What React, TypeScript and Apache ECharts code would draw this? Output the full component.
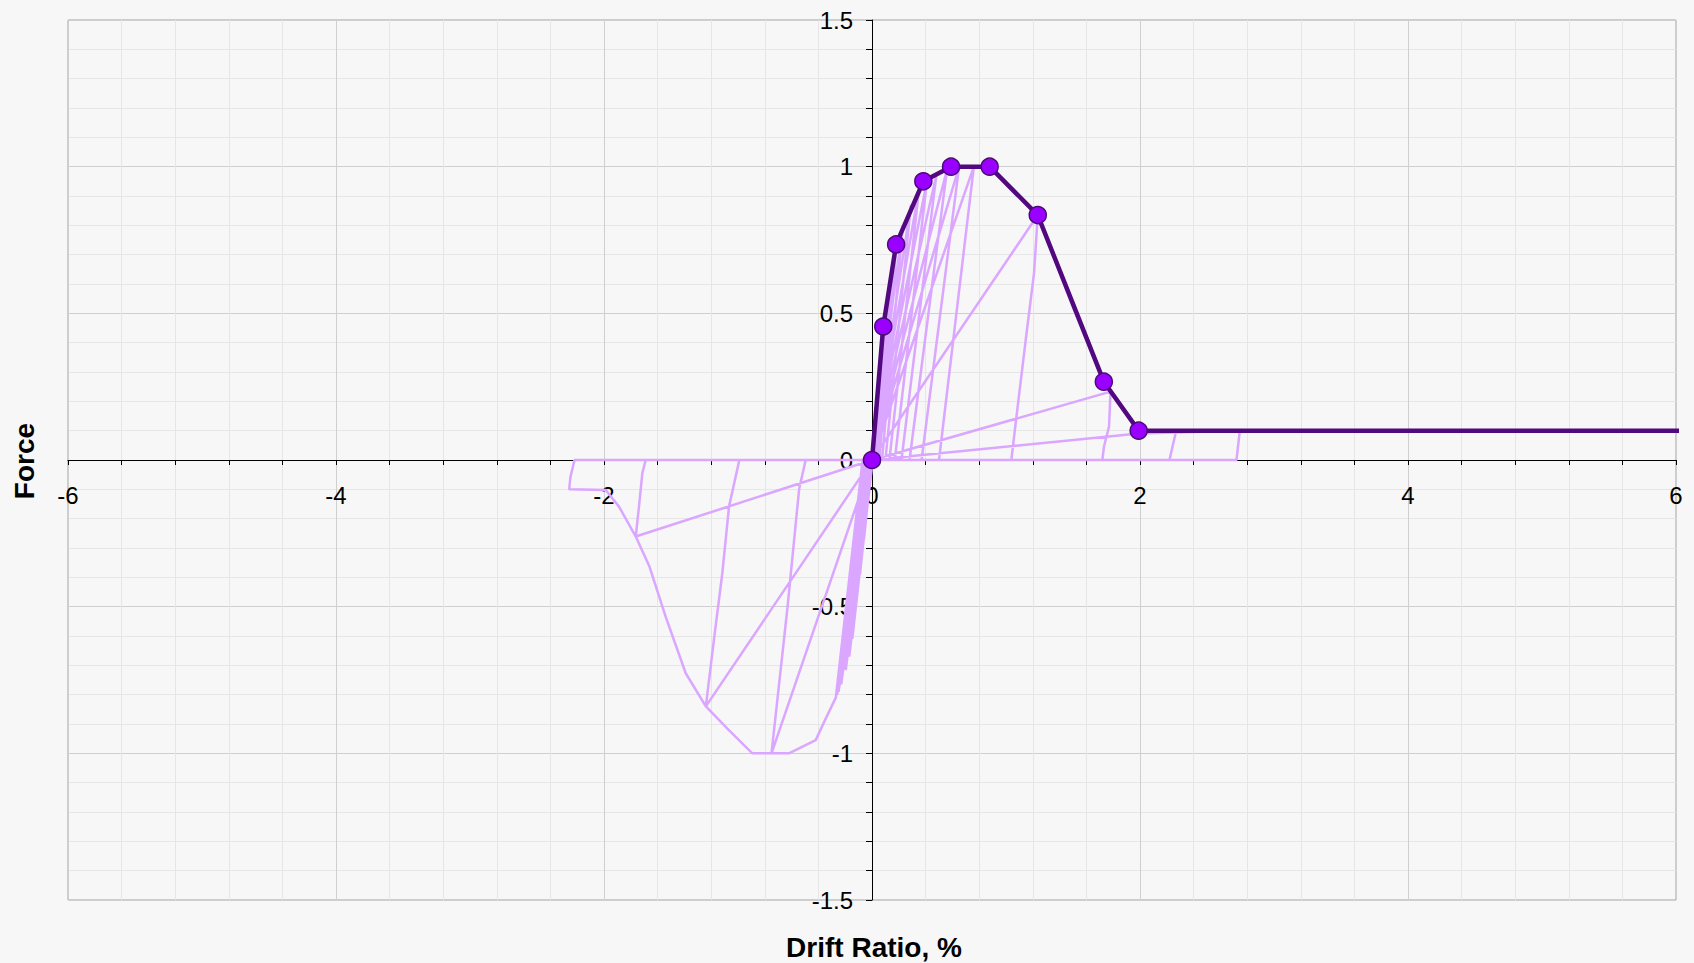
import React, { useEffect, useRef } from "react";
import * as echarts from "echarts";

const FONT = "'Liberation Sans', Arial, sans-serif";

// Backbone (envelope) points: [drift %, force]
const backbonePoints: [number, number][] = [
  [0, 0],
  [0.084, 0.455],
  [0.18, 0.735],
  [0.383, 0.95],
  [0.59, 1.0],
  [0.878, 1.0],
  [1.237, 0.835],
  [1.73, 0.267],
  [1.99, 0.1],
];
// backbone residual branch continues past the right edge
const backboneTail: [number, number][] = [[6.1, 0.1]];

// Hysteresis response (drift %, force)
const hysteresis: [number, number][] = [
  [0, 0],
  [0.04, 0.22], [0.005, 0], [0, 0], [-0.03, -0.14], [-0.005, 0], [0, 0],
  [0.07, 0.37], [0.015, 0], [0, 0], [-0.06, -0.27], [-0.01, 0], [0, 0],
  [0.1, 0.5], [0.025, 0], [0, 0], [-0.09, -0.39], [-0.015, 0], [0, 0],
  [0.14, 0.62], [0.04, 0], [0, 0], [-0.12, -0.5], [-0.02, 0], [0, 0],
  [0.18, 0.72], [0.055, 0], [0, 0], [-0.147, -0.61], [-0.025, 0], [0, 0],
  [0.23, 0.8], [0.075, 0], [0, 0], [-0.17, -0.67], [-0.03, 0], [0, 0],
  [0.29, 0.87], [0.1, 0], [0, 0], [-0.196, -0.716], [-0.035, 0], [0, 0],
  [0.35, 0.92], [0.13, 0], [0, 0], [-0.23, -0.765], [-0.04, 0], [0, 0],
  [0.41, 0.95], [0.17, 0], [0, 0], [-0.27, -0.81], [-0.05, 0], [0, 0],
  [0.48, 0.97], [0.22, 0], [0, 0], [-0.25, -0.79], [-0.06, 0], [0, 0],
  [0.56, 0.99], [0.28, 0], [0, 0], [-0.27, -0.81], [-0.07, 0], [0, 0],
  [0.65, 1.0], [0.37, 0], [0, 0], [-0.26, -0.8], [-0.055, 0], [0, 0],
  [0.76, 1.0], [0.5, 0], [0, 0], [-0.27, -0.81], [-0.065, 0], [0, 0],
  [0.76, 1.0], [0.878, 1.0], [1.237, 0.835], [1.209, 0.636], [1.147, 0.409], [1.072, 0.125], [1.04, 0], [0, 0],
  [-0.27, -0.81], [-0.35, -0.886], [-0.42, -0.955], [-0.62, -1.0], [-0.75, -1.0], [-0.63, -0.5], [-0.544, -0.1], [-0.495, 0], [0, 0],
  [1.237, 0.835], [1.5, 0.52], [1.73, 0.267], [1.78, 0.233], [1.769, 0.114], [1.731, 0.045], [1.719, 0], [0, 0],
  [-0.75, -1.0], [-0.893, -1.0], [-1.07, -0.92], [-1.24, -0.84], [-1.18, -0.614], [-1.117, -0.386], [-1.067, -0.159], [-0.99, 0], [0, 0],
  [1.78, 0.233], [1.99, 0.1], [2.27, 0.1], [2.24, 0.04], [2.22, 0], [0, 0],
  [-1.24, -0.84], [-1.39, -0.727], [-1.54, -0.534], [-1.66, -0.364], [-1.763, -0.261], [-1.739, -0.159], [-1.714, -0.045], [-1.689, 0], [0, 0],
  [1.99, 0.09], [2.745, 0.1], [2.73, 0.04], [2.72, 0], [0, 0],
  [-1.763, -0.261], [-1.888, -0.159], [-1.987, -0.102], [-2.26, -0.1], [-2.25, -0.057], [-2.22, 0], [0, 0],
];

const xTitle = "Drift Ratio, %";
const yTitle = "Force";

export default function App() {
  const ref = useRef<HTMLDivElement>(null);

  useEffect(() => {
    document.body.style.margin = "0";
    document.body.style.background = "#f7f7f7";
    const chart = echarts.init(ref.current as HTMLDivElement, null, { renderer: "svg" });
    const axisLabel = { fontSize: 24, color: "#000", fontFamily: FONT };
    const gridLeft = 68;
    const gridTop = 20;
    const gridW = 1608;
    const gridH = 880;
    chart.setOption({
      animation: false,
      backgroundColor: "#f7f7f7",
      textStyle: { fontFamily: FONT },
      grid: {
        left: gridLeft,
        top: gridTop,
        width: gridW,
        height: gridH,
        show: true,
        borderColor: "#a0a0a0",
        borderWidth: 1,
        backgroundColor: "transparent",
      },
      xAxis: {
        type: "value",
        min: -6,
        max: 6,
        interval: 2,
        position: "bottom",
        offset: -gridH / 2,
        axisLine: { onZero: false, lineStyle: { color: "#000", width: 1 } },
        axisTick: { show: true, length: 5, lineStyle: { color: "#000" } },
        minorTick: { show: true, splitNumber: 5, length: 5, lineStyle: { color: "#000" } },
        axisLabel: { ...axisLabel, margin: 23 },
        splitLine: { show: true, lineStyle: { color: "#cfcfcf" } },
        minorSplitLine: { show: true, lineStyle: { color: "#e6e6e6" } },
      },
      yAxis: {
        type: "value",
        min: -1.5,
        max: 1.5,
        interval: 0.5,
        position: "left",
        offset: -gridW / 2,
        axisLine: { onZero: false, lineStyle: { color: "#000", width: 1 } },
        axisTick: { show: true, length: 6, lineStyle: { color: "#000" } },
        minorTick: { show: true, splitNumber: 5, length: 6, lineStyle: { color: "#000" } },
        axisLabel: { ...axisLabel, margin: 19 },
        splitLine: { show: true, lineStyle: { color: "#cfcfcf" } },
        minorSplitLine: { show: true, lineStyle: { color: "#e6e6e6" } },
      },
      series: [
        {
          type: "line",
          data: hysteresis,
          showSymbol: false,
          lineStyle: { color: "#daa6ff", width: 2.5 },
          z: 2,
        },
        {
          type: "line",
          data: [...backbonePoints, ...backboneTail],
          showSymbol: false,
          clip: false,
          lineStyle: { color: "#52087f", width: 4.5 },
          z: 3,
        },
        {
          type: "scatter",
          data: backbonePoints,
          symbol: "circle",
          symbolSize: 17,
          clip: false,
          itemStyle: { color: "#9900ff", borderColor: "#4b0a78", borderWidth: 1.5, opacity: 1 },
          z: 4,
        },
      ],
      graphic: [
        {
          type: "text",
          x: 874,
          y: 947,
          style: {
            text: xTitle,
            fontSize: 28,
            fontWeight: "bold",
            fontFamily: FONT,
            fill: "#000",
            textAlign: "center",
            textVerticalAlign: "middle",
          },
        },
        {
          type: "text",
          x: 24,
          y: 461,
          rotation: Math.PI / 2,
          style: {
            text: yTitle,
            fontSize: 28,
            fontWeight: "bold",
            fontFamily: FONT,
            fill: "#000",
            textAlign: "center",
            textVerticalAlign: "middle",
          },
        },
      ],
    });
    return () => chart.dispose();
  }, []);

  return <div ref={ref} style={{ width: 1694, height: 963 }} />;
}
